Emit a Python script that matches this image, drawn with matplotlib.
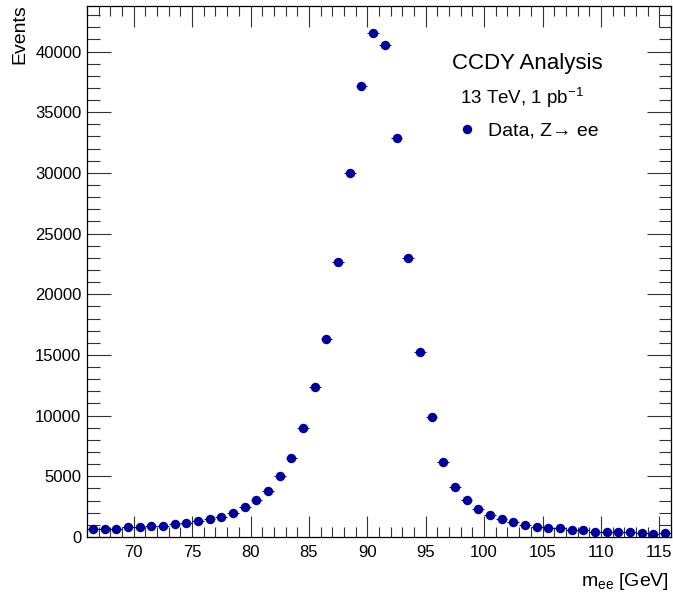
import numpy as np
from matplotlib import pyplot as plt
from matplotlib.ticker import MultipleLocator
from matplotlib.lines import Line2D

plt.rcParams['font.family'] = ['Liberation Sans', 'DejaVu Sans']
plt.rcParams['mathtext.default'] = 'regular'

# bin centres of m_ee [GeV] and event counts per 1 GeV bin
mass = np.arange(66.5, 116, 1.0)
events = [630, 690, 700, 800, 850, 900, 935, 1045, 1125, 1345,
          1480, 1675, 1980, 2470, 3050, 3820, 5020, 6480, 8960, 12370,
          16350, 22670, 30030, 37120, 41530, 40500, 32870, 23000, 15230, 9860,
          6190, 4150, 3050, 2335, 1815, 1510, 1235, 990, 850, 770,
          715, 550, 550, 410, 410, 410, 385, 300, 275, 330]
events = np.array(events, dtype=float)

W, H = 673, 599
fig = plt.figure(figsize=(W / 100, H / 100), dpi=100)
ax = fig.add_axes([87 / W, 1 - 537 / H, (671 - 87) / W, (537 - 6) / H])

col = '#000099'
ax.errorbar(mass, events, xerr=0.5, yerr=np.sqrt(events), fmt='o', color=col,
            ms=6.8, mew=0, elinewidth=0.8, capsize=0)

ax.set_xlim(66, 116)
ax.set_ylim(0, 43750)

ax.xaxis.set_major_locator(MultipleLocator(5))
ax.xaxis.set_minor_locator(MultipleLocator(1))
ax.yaxis.set_major_locator(MultipleLocator(5000))
ax.yaxis.set_minor_locator(MultipleLocator(1000))
ax.tick_params(which='both', direction='in', top=True, right=True, labelsize=12,
               width=0.8, color='#333333')
ax.tick_params(axis='x', which='major', length=15, pad=6)
ax.tick_params(axis='x', which='minor', length=7)
ax.tick_params(axis='y', which='major', length=17, pad=4)
ax.tick_params(axis='y', which='minor', length=9)
for s in ax.spines.values():
    s.set_linewidth(0.9)

fig.text(20 / W, 1 - 4 / H, 'Events', rotation=90, ha='center', va='top', fontsize=14)
fig.text(669 / W, 1 - 582 / H, r'm$_{ee}$ [GeV]', ha='right', va='center', fontsize=14)

fig.text(452 / W, 1 - 63 / H, 'CCDY Analysis', ha='left', va='center', fontsize=16)
fig.text(460 / W, 1 - 98 / H, r'13 TeV, 1 pb$^{\mathregular{-1}}$', ha='left', va='center', fontsize=13.5)

handle = Line2D([], [], ls='none', marker='o', color=col, ms=6.8, mew=0)
ax.legend([handle], ['Data, Z\u2192 ee'], loc='center left',
          bbox_to_anchor=(457 / W, 1 - 131 / H), bbox_transform=fig.transFigure,
          frameon=False, fontsize=14, handlelength=1.0, handletextpad=0.6,
          borderpad=0, borderaxespad=0)

fig.savefig('out.png', dpi=100)
